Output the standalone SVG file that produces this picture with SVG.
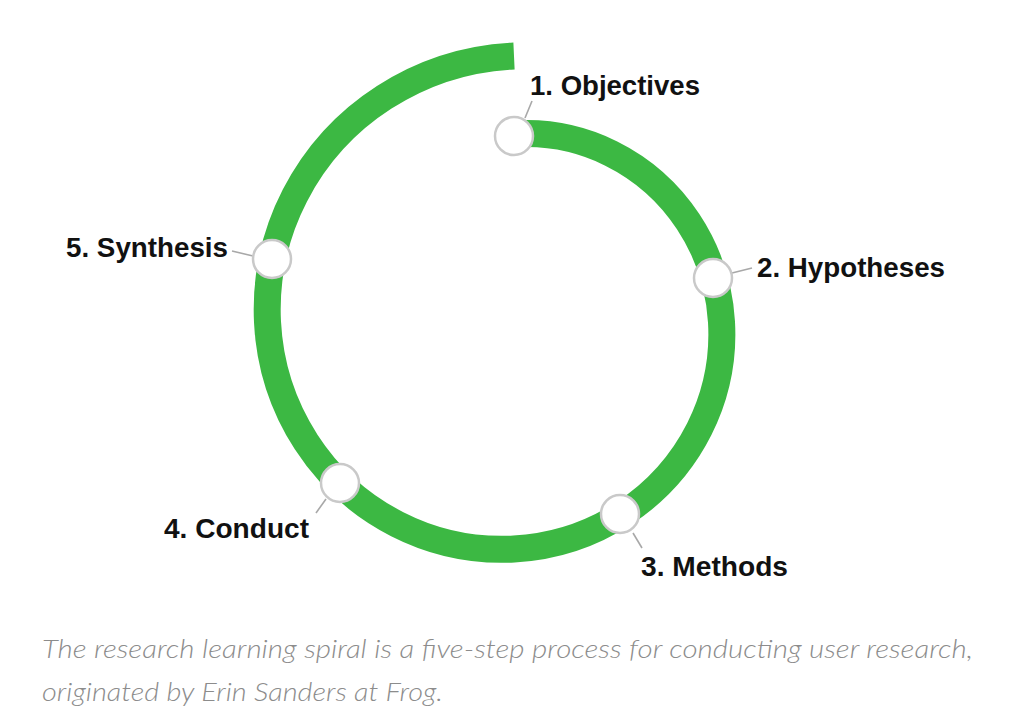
<svg xmlns="http://www.w3.org/2000/svg" width="1023" height="714" viewBox="0 0 1023 714">
<style>
.spiral{fill:none;stroke:#3cb843;stroke-width:27;stroke-linecap:butt}
.node{fill:#ffffff;stroke:#c9c9c9;stroke-width:2.5}
.lead{stroke:#a8a8a8;stroke-width:1.6;fill:none}
.lbl{font-family:"Liberation Sans",Arial,sans-serif;font-weight:bold;font-size:28px;fill:#111111}
.cap{font-family:Lato,"Liberation Sans",sans-serif;font-style:italic;font-weight:300;font-size:25px;fill:#8c8c8c}
</style>
<rect width="1023" height="714" fill="#ffffff"/>
<g id="connectors">
<path class="spiral" d="M514,134 A191.25,191.25 0 0 1 611.25,153.56 A197.75,197.75 0 0 1 688.07,221.5 A204.25,204.25 0 0 1 721.5,322 A210.75,210.75 0 0 1 699.33,429 A217.25,217.25 0 0 1 624.25,512.96 A223.75,223.75 0 0 1 514,549 A230.25,230.25 0 0 1 397.25,524.21 A236.75,236.75 0 0 1 306.15,442 A243.25,243.25 0 0 1 267.5,322 A249.75,249.75 0 0 1 294.9,195.5 A256.25,256.25 0 0 1 384.25,97.26 A262.75,262.75 0 0 1 514,56"/>
<line class="lead" x1="525" y1="118" x2="532" y2="101"/>
<line class="lead" x1="732" y1="273" x2="752" y2="268"/>
<line class="lead" x1="633" y1="533" x2="642" y2="548"/>
<line class="lead" x1="326" y1="499" x2="316" y2="513"/>
<line class="lead" x1="253" y1="256" x2="232" y2="251"/>
</g>
<g id="node1"><circle class="node" cx="514" cy="136" r="19"/><text class="lbl" x="530" y="95" textLength="170" lengthAdjust="spacingAndGlyphs">1. Objectives</text></g>
<g id="node2"><circle class="node" cx="713" cy="278" r="19"/><text class="lbl" x="757" y="277" textLength="188" lengthAdjust="spacingAndGlyphs">2. Hypotheses</text></g>
<g id="node3"><circle class="node" cx="620" cy="514" r="19"/><text class="lbl" x="641" y="576" textLength="147" lengthAdjust="spacingAndGlyphs">3. Methods</text></g>
<g id="node4"><circle class="node" cx="340" cy="483" r="19"/><text class="lbl" x="164" y="538" textLength="145" lengthAdjust="spacingAndGlyphs">4. Conduct</text></g>
<g id="node5"><circle class="node" cx="272" cy="259" r="19"/><text class="lbl" x="66" y="257" textLength="162" lengthAdjust="spacingAndGlyphs">5. Synthesis</text></g>
<g id="caption">
<text class="cap" x="42" y="658" textLength="931" lengthAdjust="spacingAndGlyphs">The research learning spiral is a five-step process for conducting user research,</text>
<text class="cap" x="42" y="701" textLength="401" lengthAdjust="spacingAndGlyphs">originated by Erin Sanders at Frog.</text>
</g>
</svg>
